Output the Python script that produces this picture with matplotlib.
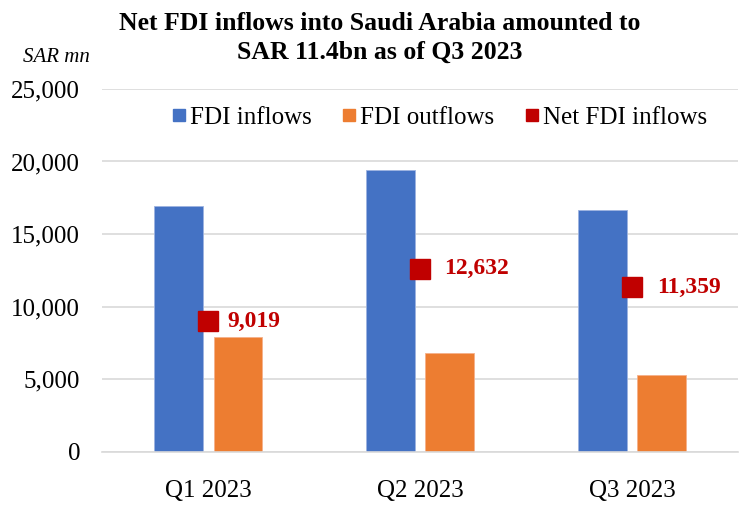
import matplotlib.pyplot as plt
from matplotlib.lines import Line2D
import numpy as np

# datos del gráfico
quarters = ["Q1 2023", "Q2 2023", "Q3 2023"]
fdi_inflows = [16940, 19420, 16630]
fdi_outflows = [7921, 6788, 5271]
net_inflows = [9019, 12632, 11359]
net_labels = ["9,019", "12,632", "11,359"]

blue = "#4472C4"
orange = "#ED7D31"
red = "#C00000"

plt.rcParams["font.family"] = ["Liberation Serif", "DejaVu Serif"]

fig = plt.figure(figsize=(7.41, 5.05), dpi=100)
ax = fig.add_axes([0.138, 0.105, 0.858, 0.719])

x = np.arange(len(quarters))
w = 0.23
ax.bar(x - 0.14, fdi_inflows, w, color=blue, edgecolor="#9DB3E0", linewidth=0.6, zorder=2)
ax.bar(x + 0.14, fdi_outflows, w, color=orange, edgecolor="#F5B08A", linewidth=0.6, zorder=2)
ax.plot(x, net_inflows, "s", color=red, markersize=14, linestyle="none", zorder=3)

# etiquetas de la serie neta
offsets = [14, 17, 18]
for xi, v, lab, dx in zip(x, net_inflows, net_labels, offsets):
    ax.annotate(lab, (xi, v), xytext=(dx, 0), textcoords="offset points",
                color=red, fontsize=17, fontweight="bold", va="center", ha="left")

ax.set_ylim(0, 25000)
ax.set_xlim(-0.5, 2.5)
ax.set_yticks(range(0, 25001, 5000))
ax.set_yticklabels([f"{t:,}" for t in range(0, 25001, 5000)])
ax.set_xticks(x)
ax.set_xticklabels(quarters)
ax.tick_params(axis="both", length=0, labelsize=18)
ax.tick_params(axis="x", pad=20)
ax.tick_params(axis="y", pad=16)
ax.grid(axis="y", color="#D9D9D9", linewidth=1.2, zorder=0)
ax.set_axisbelow(True)
for s in ["top", "right", "left"]:
    ax.spines[s].set_visible(False)
ax.spines["bottom"].set_color("#D9D9D9")
ax.spines["bottom"].set_linewidth(1.2)

handles = [
    Line2D([], [], marker="s", color=blue, linestyle="none", markersize=9),
    Line2D([], [], marker="s", color=orange, linestyle="none", markersize=9),
    Line2D([], [], marker="s", color=red, linestyle="none", markersize=9),
]
ax.legend(handles, ["FDI inflows", "FDI outflows", "Net FDI inflows"], ncol=3,
          loc="center", bbox_to_anchor=(0.528, 0.92), frameon=False, fontsize=18,
          handletextpad=0.05, columnspacing=1.1, handlelength=0.8)

fig.text(0.513, 0.925, "Net FDI inflows into Saudi Arabia amounted to\nSAR 11.4bn as of Q3 2023",
         ha="center", va="center", fontsize=18.5, fontweight="bold", linespacing=1.3)
fig.text(0.076, 0.887, "SAR mn", ha="center", va="center", fontsize=15, style="italic")

fig.savefig("out.png", dpi=100)
